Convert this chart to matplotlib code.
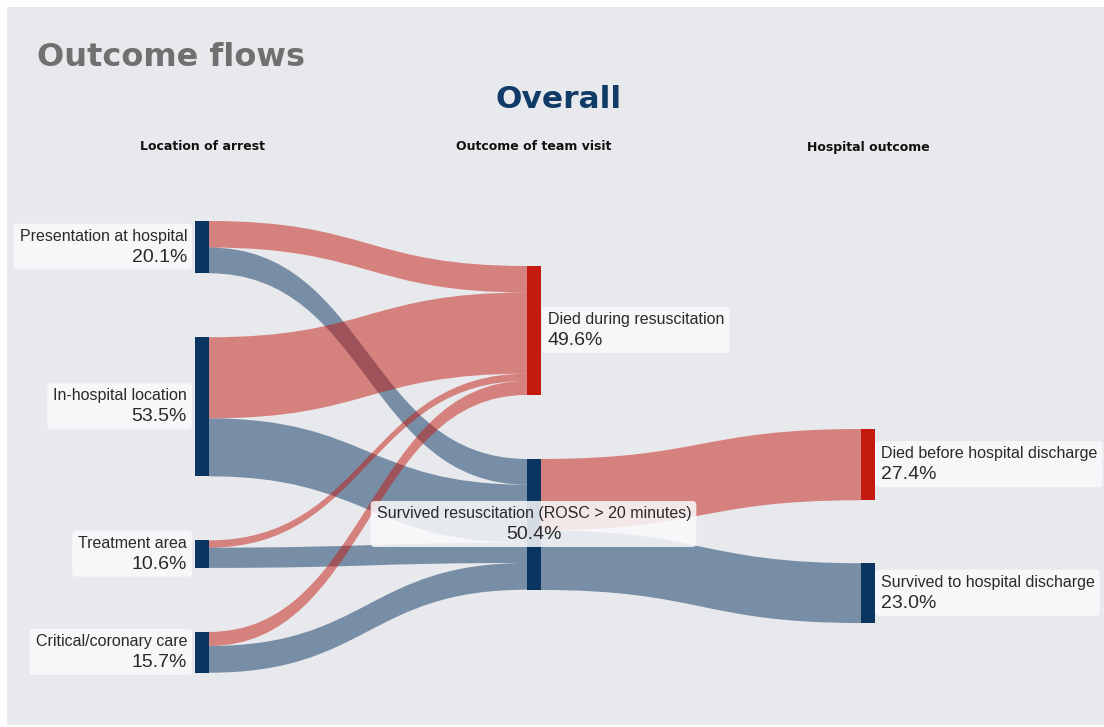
import numpy as np
import matplotlib.pyplot as plt
from matplotlib.path import Path
from matplotlib.patches import PathPatch, Rectangle, FancyBboxPatch

# Data
stages = ['Location of arrest', 'Outcome of team visit', 'Hospital outcome']
loc_names = ['Presentation at hospital', 'In-hospital location', 'Treatment area', 'Critical/coronary care']
loc_pct = [20.1, 53.5, 10.6, 15.7]
visit_names = ['Died during resuscitation', 'Survived resuscitation (ROSC > 20 minutes)']
visit_pct = [49.6, 50.4]
hosp_names = ['Died before hospital discharge', 'Survived to hospital discharge']
hosp_pct = [27.4, 23.0]
# flows location -> outcome of visit
loc_to_died = [10.2, 31.2, 2.8, 5.4]
loc_to_survived = [9.9, 22.3, 7.8, 10.3]
# flows survived resuscitation -> hospital outcome
surv_to_hosp = [27.4, 23.0]

# Layout (pixel-like coordinates)
W, H = 1104, 727
scale = 2.6          # px per percent
node_w = 14
col_x = [195, 527, 861]
col_top = [221, 266, 429]
pad = 64

navy = '#0a3561'
red = '#c41a10'
bg = '#e8e9ec'

fig = plt.figure(figsize=(W / 100, H / 100), dpi=100)
fig.patch.set_facecolor('white')
ax = fig.add_axes([0, 0, 1, 1])
ax.set_xlim(0, W)
ax.set_ylim(H, 0)
ax.axis('off')
ax.add_patch(Rectangle((7, 7), W - 7, H - 9, facecolor=bg, edgecolor='none', zorder=0))


def stack(values, top):
    tops = []
    y = top
    for v in values:
        tops.append(y)
        y += v * scale + pad
    return tops


loc_tops = stack(loc_pct, col_top[0])
visit_tops = stack(visit_pct, col_top[1])
hosp_tops = [col_top[2], col_top[2] + hosp_pct[0] * scale + pad - 1]


def link(x0, y0, x1, y1, w, color):
    xm = (x0 + x1) / 2
    verts = [(x0, y0), (xm, y0), (xm, y1), (x1, y1),
             (x1, y1 + w), (xm, y1 + w), (xm, y0 + w), (x0, y0 + w), (x0, y0)]
    codes = [Path.MOVETO, Path.CURVE4, Path.CURVE4, Path.CURVE4,
             Path.LINETO, Path.CURVE4, Path.CURVE4, Path.CURVE4, Path.CLOSEPOLY]
    ax.add_patch(PathPatch(Path(verts, codes), facecolor=color, edgecolor='none',
                           alpha=0.5, zorder=1))


# links stage 1
died_y = visit_tops[0]
surv_y = visit_tops[1]
for i in range(len(loc_names)):
    y = loc_tops[i]
    wr = loc_to_died[i] * scale
    wb = loc_to_survived[i] * scale
    link(col_x[0] + node_w, y, col_x[1], died_y, wr, red)
    link(col_x[0] + node_w, y + wr, col_x[1], surv_y, wb, navy)
    died_y += wr
    surv_y += wb

# links stage 2
y = visit_tops[1]
for j, c in enumerate([red, navy]):
    w = surv_to_hosp[j] * scale
    link(col_x[1] + node_w, y, col_x[2], hosp_tops[j], w, c)
    y += w

# nodes
for i, v in enumerate(loc_pct):
    ax.add_patch(Rectangle((col_x[0], loc_tops[i]), node_w, v * scale, facecolor=navy, zorder=2))
for i, v in enumerate(visit_pct):
    ax.add_patch(Rectangle((col_x[1], visit_tops[i]), node_w, v * scale,
                           facecolor=[red, navy][i], zorder=2))
for i, v in enumerate(hosp_pct):
    ax.add_patch(Rectangle((col_x[2], hosp_tops[i]), node_w, v * scale,
                           facecolor=[red, navy][i], zorder=2))

# labels
lab_font = 'Liberation Sans'
labels = []


def label(x, yc, name, pct, ha):
    t1 = ax.text(x, yc - 11, name, ha=ha, va='center', fontsize=11.5, color='#2a2a2a',
                 family=lab_font, zorder=4)
    t2 = ax.text(x, yc + 10, f'{pct:.1f}%', ha=ha, va='center', fontsize=14, color='#2a2a2a',
                 family=lab_font, zorder=4)
    labels.append((t1, t2))


for i, v in enumerate(loc_pct):
    label(col_x[0] - 8, loc_tops[i] + v * scale / 2, loc_names[i], v, 'right')
label(col_x[1] + node_w + 7, visit_tops[0] + visit_pct[0] * scale / 2, visit_names[0], visit_pct[0], 'left')
label(col_x[1] + node_w / 2, visit_tops[1] + visit_pct[1] * scale / 2, visit_names[1], visit_pct[1], 'center')
for i, v in enumerate(hosp_pct):
    label(col_x[2] + node_w + 6, hosp_tops[i] + v * scale / 2, hosp_names[i], v, 'left')

fig.canvas.draw()
r = fig.canvas.get_renderer()
inv = ax.transData.inverted()
for t1, t2 in labels:
    b1 = t1.get_window_extent(r)
    b2 = t2.get_window_extent(r)
    x0, x1 = min(b1.x0, b2.x0), max(b1.x1, b2.x1)
    ya, yb = min(b1.y0, b2.y0), max(b1.y1, b2.y1)
    (dx0, dy0), (dx1, dy1) = inv.transform([(x0, ya), (x1, yb)])
    ax.add_patch(FancyBboxPatch((dx0 - 6, dy1 - 5), dx1 - dx0 + 11, dy0 - dy1 + 9,
                                boxstyle='round,pad=0,rounding_size=4',
                                facecolor='#fafafc', edgecolor='none', alpha=0.85, zorder=3))

# titles
ax.text(37, 57, 'Outcome flows', fontsize=23, fontweight='bold', color='#707070',
        va='center', ha='left', family='DejaVu Sans')
ax.text(559, 100, 'Overall', fontsize=22.5, fontweight='bold', color='#0f3b66',
        va='center', ha='center', family='DejaVu Sans')
for i, s in enumerate(stages):
    ax.text(col_x[i] + node_w / 2, 147, s, fontsize=9, fontweight='bold', color='#111111',
            va='center', ha='center', family='DejaVu Sans')

fig.savefig('out.png', dpi=100, facecolor='white')
